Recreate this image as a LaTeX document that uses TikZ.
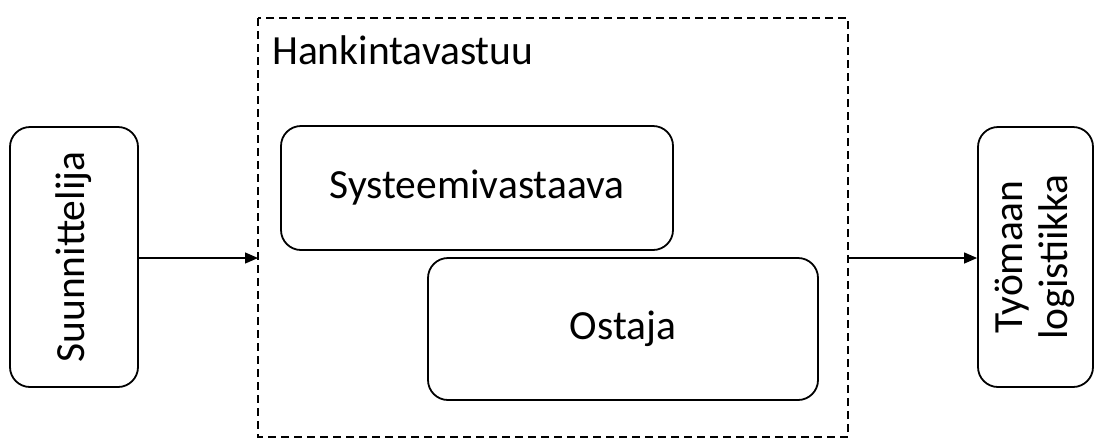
\documentclass[tikz,border=0pt]{standalone}
\usepackage{fontspec}
\setmainfont{Carlito}
\usepackage{graphicx}
\usetikzlibrary{arrows.meta, positioning}

\tikzset{
	blk/.style={draw, line width=1.8pt, rounded corners=20pt, inner sep=0pt, font=\fontsize{41.5}{45}\selectfont},
	grp/.style={draw, line width=1.6pt, dash pattern=on 8pt off 5pt},
	flow/.style={line width=1.2pt, -{Triangle[length=13pt, width=11pt]}}
}

\begin{document}
\begin{tikzpicture}[x=1pt, y=-1pt]
		\useasboundingbox (0,0) rectangle (1102,440);
		\draw [grp] (258,18) rectangle (848,437);
		\coordinate (grpW) at (258,258);
		\coordinate (grpE) at (848,258);
		\node [anchor=base west, inner sep=0pt, font=\fontsize{41.5}{45}\selectfont] (title) at (272,64) {Hankintavastuu};
		\node [blk, minimum width=128pt, minimum height=260pt] (suun) at (74,257) {\rotatebox{90}{Suunnittelija}};
		\node [blk, minimum width=115pt, minimum height=260pt] (tyom) at (1035.5,257) {\rotatebox{90}{\begin{tabular}{@{}c@{}}Työmaan\\logistiikka\end{tabular}}};
		\node [blk, minimum width=392pt, minimum height=124pt] (syst) at (477,188) {Systeemivastaava};
		\node [blk, minimum width=390pt, minimum height=142pt] (osta) at (623,329) {Ostaja};
		\draw [flow] (suun.east |- grpW) -- (grpW);
		\draw [flow] (grpE) -- (tyom.west |- grpE);
	\end{tikzpicture}
\end{document}
